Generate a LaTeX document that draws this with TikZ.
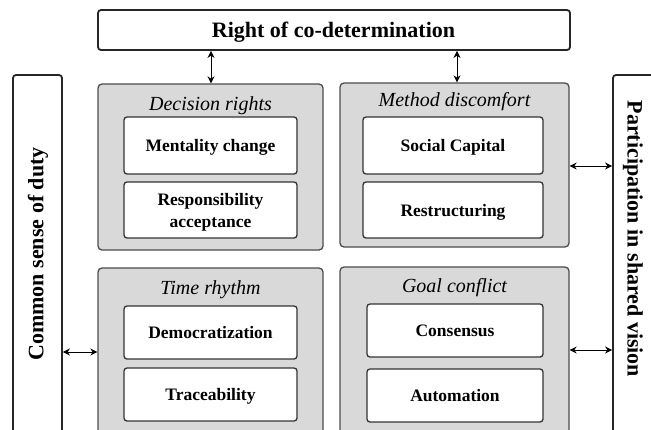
\documentclass[tikz,border=0pt]{standalone}
\usepackage{fontspec}
\setmainfont{Liberation Serif}
\usetikzlibrary{arrows.meta}
\begin{document}
\begin{tikzpicture}[x=1pt,y=-1pt,
 outer/.style={draw=black!85, line width=1.8pt, rounded corners=3pt, fill=white, inner sep=0pt},
 group/.style={draw=black!70, line width=1.3pt, rounded corners=4pt, fill=gray!30, inner sep=0pt},
 inbox/.style={draw=black!80, line width=1.3pt, rounded corners=3pt, fill=white, inner sep=0pt, align=center, text height=12pt, text depth=0pt, font=\fontsize{17.5}{22}\selectfont\bfseries},
 gtitle/.style={font=\fontsize{20}{24}\selectfont\itshape, inner sep=0pt},
 bigtext/.style={font=\fontsize{22}{26}\selectfont\bfseries, inner sep=0pt},
 arr/.style={{Stealth[length=7pt,width=7pt]}-{Stealth[length=7pt,width=7pt]}, line width=0.8pt}
]
\useasboundingbox (0,0) rectangle (651,429);
\begin{scope}
\clip (0,0) rectangle (651,429);
% outer frames
\node[outer, minimum width=472pt, minimum height=40pt] (top) at (334,30) {};
\node[bigtext] (toptext) at (333.5,32) {Right of co-determination};
\node[outer, minimum width=49pt, minimum height=385pt] (duty) at (37.5,267.5) {};
\node[bigtext, rotate=90] (dutytext) at (38,254) {Common sense of duty};
\node[outer, minimum width=58pt, minimum height=385pt] (vision) at (642,267.5) {};
\node[bigtext, rotate=-90] (visiontext) at (633,239) {Participation in shared vision};
% groups
\node[group, minimum width=225pt, minimum height=166pt] (dr) at (210.5,167) {};
\node[group, minimum width=229pt, minimum height=164pt] (md) at (454.5,165) {};
\node[group, minimum width=225pt, minimum height=172pt] (tr) at (210.5,354) {};
\node[group, minimum width=229pt, minimum height=173pt] (gc) at (454.5,353.5) {};
% group titles
\node[gtitle] (drt) at (210.5,106) {Decision rights};
\node[gtitle] (mdt) at (454.5,102) {Method discomfort};
\node[gtitle] (trt) at (210.5,290) {Time rhythm};
\node[gtitle] (gct) at (454.5,288) {Goal conflict};
% inner boxes
\node[inbox, minimum width=173pt, minimum height=57pt] (mc) at (210.5,145.5) {Mentality change};
\node[inbox, minimum width=173pt, minimum height=56pt, text height=34pt] (ra) at (210.5,210) {Responsibility\\acceptance};
\node[inbox, minimum width=180pt, minimum height=57pt] (sc) at (453,145.5) {Social Capital};
\node[inbox, minimum width=180pt, minimum height=56pt] (rs) at (453,210) {Restructuring};
\node[inbox, minimum width=173pt, minimum height=53pt] (dm) at (210.5,332.5) {Democratization};
\node[inbox, minimum width=173pt, minimum height=53pt] (tc) at (210.5,394.5) {Traceability};
\node[inbox, minimum width=176pt, minimum height=53pt] (cs) at (455,330.5) {Consensus};
\node[inbox, minimum width=176pt, minimum height=53pt] (am) at (455,395.5) {Automation};
% connectors
\coordinate (ax1) at (211,0);
\coordinate (ax2) at (457,0);
\coordinate (ay1) at (0,352);
\coordinate (ay2) at (0,166);
\coordinate (ay3) at (0,350);
\draw[arr] (top.south -| ax1) -- (dr.north -| ax1);
\draw[arr] (top.south -| ax2) -- (md.north -| ax2);
\draw[arr] (duty.east |- ay1) -- (tr.west |- ay1);
\draw[arr] (md.east |- ay2) -- (vision.west |- ay2);
\draw[arr] (gc.east |- ay3) -- (vision.west |- ay3);
\end{scope}
\end{tikzpicture}
\end{document}
